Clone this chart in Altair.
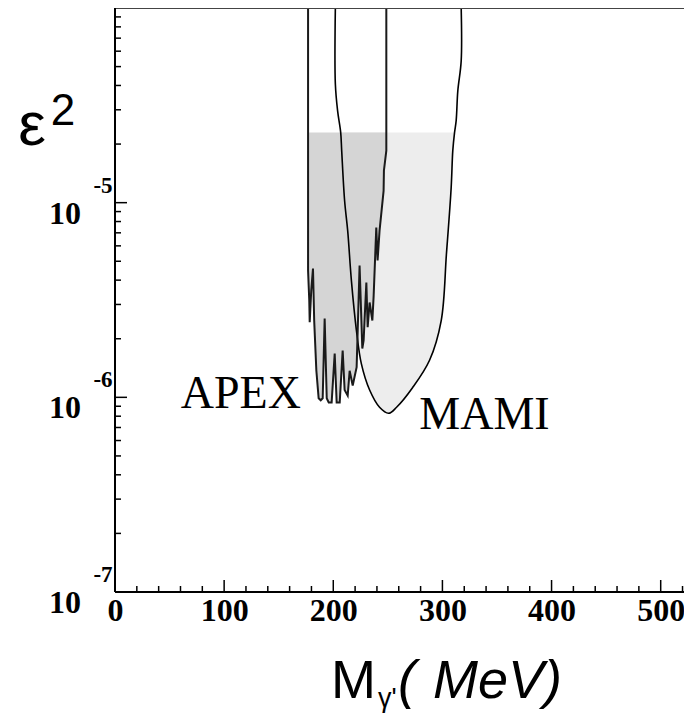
import altair as alt
import pandas as pd

# ---- data ----
mami_mass = [201.9, 201.9, 204.0, 206.8, 207.7, 210.4, 213.2, 216.6, 221.2, 225.7, 233.3, 242.4,
             250.7, 258.0, 272.6, 288.2, 298.9, 303.7, 308.0, 309.5, 311.1, 312.6, 314.1, 317.2, 317.2]
mami_eps2 = [1.0e-4, 4.07e-5, 2.95e-5, 2.29e-5, 1.85e-5, 1.02e-5, 7.18e-6, 3.98e-6, 2.21e-6, 1.49e-6,
             1.09e-6, 8.89e-7, 8.28e-7, 8.89e-7, 1.12e-6, 1.55e-6, 2.48e-6, 5.47e-6, 1.19e-5, 1.85e-5,
             2.29e-5, 2.64e-5, 3.75e-5, 5.35e-5, 1.0e-4]

apex_mass = [176.9, 176.9, 178.0, 178.4, 179.8, 181.4, 182.5, 184.5, 186.6, 188.5, 190.3, 192.1,
             194.0, 195.8, 198.5, 201.3, 203.1, 205.9, 208.6, 210.4, 213.2, 215.0, 217.8, 221.4,
             224.1, 226.6, 227.8, 230.3, 231.5, 233.3, 235.8, 237.0, 239.4, 240.6, 242.4, 246.1,
             246.4, 248.6, 248.6]
apex_eps2 = [1.0e-4, 4.48e-6, 3.14e-6, 2.43e-6, 3.54e-6, 4.59e-6, 2.48e-6, 1.37e-6, 9.89e-7, 9.66e-7,
             9.89e-7, 2.54e-6, 9.89e-7, 9.42e-7, 9.42e-7, 1.68e-6, 9.42e-7, 9.42e-7, 1.74e-6, 1.09e-6,
             1.02e-6, 1.37e-6, 1.15e-6, 1.43e-6, 4.75e-6, 1.78e-6, 1.96e-6, 3.89e-6, 2.29e-6, 3.07e-6,
             2.48e-6, 3.33e-6, 7.45e-6, 5.05e-6, 7.18e-6, 1.15e-5, 1.46e-5, 1.85e-5, 1.0e-4]

shade_top = 2.29e-5

x_major = [0, 100, 200, 300, 400, 500]
x_minor = [20, 40, 60, 80, 120, 140, 160, 180, 220, 240, 260, 280, 320, 340, 360, 380,
           420, 440, 460, 480, 520]
y_decades = [1e-7, 1e-6, 1e-5]
y_exponents = ["-7", "-6", "-5"]
y_minor_mult = [2, 3, 4, 5, 6, 7, 8, 9]

labels = ["APEX", "MAMI"]
label_mass = [115.3, 338.5]
label_eps2 = [8.79e-7, 6.86e-7]

W, H = 569, 584
X_DOMAIN = [0, W / 1.0914]
Y_DOMAIN = [1e-7, 1e-4]

# ---- tables ----
mami = pd.DataFrame({"mass": mami_mass, "eps2": mami_eps2, "i": range(len(mami_mass))})
mami["top"] = shade_top
apex = pd.DataFrame({"mass": apex_mass, "eps2": apex_eps2, "i": range(len(apex_mass))})
apex["top"] = shade_top
xmaj = pd.DataFrame({"mass": x_major})
xmin = pd.DataFrame({"mass": x_minor})
ydec = pd.DataFrame({"eps2": y_decades, "exp": y_exponents})
ymin = pd.DataFrame({"eps2": [m * d for d in y_decades for m in y_minor_mult]})
lab = pd.DataFrame({"mass": label_mass, "eps2": label_eps2, "txt": labels})
one = pd.DataFrame({"k": [0]})

xscale = alt.Scale(domain=X_DOMAIN, nice=False, zero=False)
yscale = alt.Scale(type="log", domain=Y_DOMAIN, nice=False)
xaxis = alt.Axis(values=x_major, labelFont="Liberation Serif", labelFontWeight="bold",
                 labelFontSize=32, labelColor="black", labelPadding=3, ticks=False,
                 domain=False, grid=False, title=None, labelFlush=False, labelOverlap=False)

def X(field="mass"):
    return alt.X(f"{field}:Q", scale=xscale, axis=xaxis)

def Y(field="eps2"):
    return alt.Y(f"{field}:Q", scale=yscale, axis=None)

mami_fill = alt.Chart(mami).transform_filter(alt.datum.eps2 <= shade_top).mark_area(
    color="#ededed", opacity=1, interpolate="catmull-rom").encode(x=X(), y=Y(), y2="top:Q")
apex_fill = alt.Chart(apex).transform_filter(alt.datum.eps2 <= shade_top).mark_area(
    color="#d5d5d5", opacity=1).encode(x=X(), y=Y(), y2="top:Q")
mami_line = alt.Chart(mami).mark_line(color="black", strokeWidth=1.6,
                                      interpolate="catmull-rom").encode(
    x=X(), y=Y(), order="i:Q")
apex_line = alt.Chart(apex).mark_line(color="#1a1a1a", strokeWidth=2.0).encode(
    x=X(), y=Y(), order="i:Q")

# frame
frame_left = alt.Chart(one).mark_rule(color="black", strokeWidth=2).encode(
    x=alt.value(0), y=alt.value(0), y2=alt.value(H))
frame_bottom = alt.Chart(one).mark_rule(color="black", strokeWidth=2).encode(
    x=alt.value(0), x2=alt.value(W), y=alt.value(H))
frame_top = alt.Chart(one).mark_rule(color="#444444", strokeWidth=2).encode(
    x=alt.value(0), x2=alt.value(W), y=alt.value(0))

# inward ticks
xt_major = alt.Chart(xmaj).mark_rule(color="black", strokeWidth=1.5).encode(
    x=X(), y=alt.value(H), y2=alt.value(H - 12))
xt_minor = alt.Chart(xmin).mark_rule(color="black", strokeWidth=1.5).encode(
    x=X(), y=alt.value(H), y2=alt.value(H - 6))
yt_major = alt.Chart(ydec).mark_rule(color="black", strokeWidth=1.5).encode(
    y=Y(), x=alt.value(0), x2=alt.value(12))
yt_minor = alt.Chart(ymin).mark_rule(color="black", strokeWidth=1.5).encode(
    y=Y(), x=alt.value(0), x2=alt.value(6))

# y tick labels 10^k
y_ten = alt.Chart(ydec).mark_text(font="Liberation Serif", fontWeight="bold", fontSize=32,
                                  align="center", baseline="middle", dy=11, color="black").encode(
    y=Y(), x=alt.value(-50), text=alt.value("10"))
y_exp = alt.Chart(ydec).mark_text(font="Liberation Serif", fontWeight="bold", fontSize=23,
                                  align="center", baseline="middle", dy=-17, color="black").encode(
    y=Y(), x=alt.value(-12), text="exp:N")

# annotations
ann = alt.Chart(lab).mark_text(font="Liberation Serif", fontSize=46, align="center",
                               baseline="alphabetic", color="black").encode(
    x=X(), y=Y(), text="txt:N")

# axis titles
t_eps = alt.Chart(one).mark_text(font="Liberation Sans", fontSize=62, align="center",
                                 baseline="middle", color="black").encode(
    x=alt.value(-83), y=alt.value(118), text=alt.value("ε"))
t_eps2 = alt.Chart(one).mark_text(font="Liberation Sans", fontSize=44, align="center",
                                  baseline="middle", color="black").encode(
    x=alt.value(-52), y=alt.value(104), text=alt.value("2"))
t_m = alt.Chart(one).mark_text(font="Liberation Sans", fontSize=54,
                               align="left", baseline="alphabetic", color="black").encode(
    x=alt.value(216), y=alt.value(690), text=alt.value("M"))
t_g = alt.Chart(one).mark_text(font="Liberation Sans", fontSize=27, align="left",
                               baseline="alphabetic", color="black").encode(
    x=alt.value(263), y=alt.value(699), text=alt.value("γ'"))
t_par = alt.Chart(one).mark_text(font="Liberation Sans", fontSize=54, align="left",
                                 fontStyle="italic", baseline="alphabetic", color="black").encode(
    x=alt.value(283), y=alt.value(690), text=alt.value("("))
t_mev = alt.Chart(one).mark_text(font="Liberation Sans", fontSize=54, align="left",
                                 fontStyle="italic", baseline="alphabetic", color="black").encode(
    x=alt.value(318), y=alt.value(690), text=alt.value("MeV)"))

chart = alt.layer(
    mami_fill, apex_fill, mami_line, apex_line,
    frame_top, frame_left, frame_bottom,
    xt_major, xt_minor, yt_major, yt_minor,
    y_ten, y_exp, ann, t_eps, t_eps2, t_m, t_g, t_par, t_mev
).properties(
    width=W, height=H,
    autosize=alt.AutoSizeParams(type="none"),
    padding={"left": 107, "top": 0, "right": 0, "bottom": 121},
).configure_view(stroke=None)

chart.save("out.html", embed_options={"renderer": "svg", "actions": False})
